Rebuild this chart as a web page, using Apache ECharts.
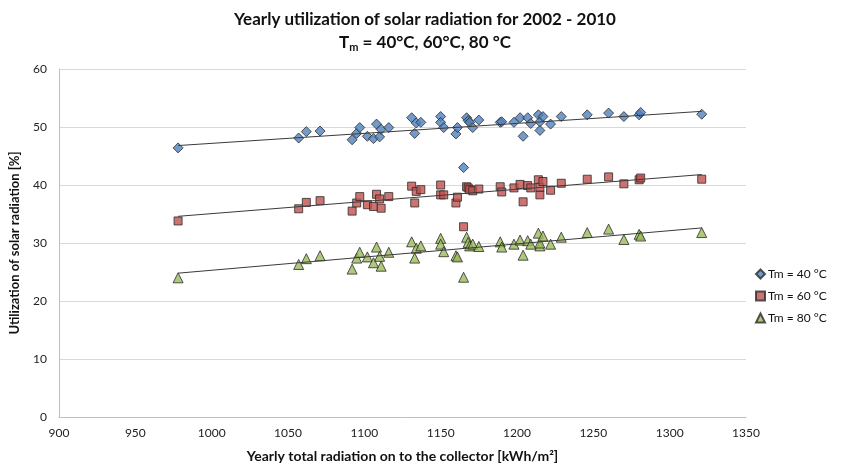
<!DOCTYPE html>
<html>
<head>
<meta charset="utf-8">
<script src="https://cdn.jsdelivr.net/npm/echarts@6/dist/echarts.min.js"></script>
<style>
  html, body { margin: 0; padding: 0; background: #fff; }
  #chart { width: 861px; height: 468px; }
</style>
</head>
<body>
<div id="chart"></div>
<script>
// yearly total radiation on the collector [kWh/m2], shared by all three series
const radiation = [978, 1057, 1062, 1071, 1092, 1095, 1097, 1102, 1106, 1108, 1110, 1111, 1116,
  1131, 1133, 1134, 1137, 1150, 1150, 1152, 1160, 1161, 1165, 1167, 1168, 1169, 1171, 1175,
  1189, 1190, 1198, 1202, 1204, 1207, 1209, 1214, 1215, 1215, 1217, 1222, 1229, 1246, 1260,
  1270, 1280, 1281, 1321];

// utilization [%] for each mean temperature
const tm40 = [46.4, 48.1, 49.2, 49.3, 47.8, 48.9, 49.9, 48.4, 48.0, 50.5, 48.3, 49.6, 49.9,
  51.6, 48.9, 50.7, 50.8, 51.8, 50.8, 49.9, 48.8, 49.9, 43.0, 51.6, 51.1, 50.8, 49.9, 51.2,
  50.8, 50.9, 50.8, 51.6, 48.4, 51.6, 50.6, 52.1, 49.4, 50.9, 51.8, 50.5, 51.8, 52.1, 52.4,
  51.8, 52.1, 52.5, 52.2];
const tm60 = [33.8, 35.9, 37.0, 37.3, 35.5, 36.9, 38.0, 36.6, 36.3, 38.4, 37.6, 36.0, 38.0,
  39.8, 36.9, 38.9, 39.2, 40.0, 38.3, 38.3, 36.9, 37.9, 32.8, 39.7, 39.5, 39.2, 39.0, 39.3,
  39.7, 38.8, 39.5, 40.1, 37.1, 39.9, 39.5, 40.9, 38.3, 39.6, 40.6, 39.1, 40.3, 41.0, 41.4,
  40.2, 40.9, 41.2, 41.0];
const tm80 = [24.0, 26.3, 27.3, 27.8, 25.5, 27.4, 28.4, 27.6, 26.6, 29.3, 27.7, 26.0, 28.4,
  30.2, 27.4, 29.1, 29.5, 30.8, 29.8, 28.5, 27.8, 27.6, 24.1, 31.0, 30.1, 29.5, 29.8, 29.4,
  30.2, 29.3, 29.8, 30.5, 27.9, 30.4, 29.8, 31.7, 29.5, 30.0, 31.2, 29.8, 31.0, 31.8, 32.4,
  30.6, 31.5, 31.2, 31.8];

// linear trend lines, end points
const trendX = [978, 1321];
const trend40 = [46.8, 52.7];
const trend60 = [34.6, 41.8];
const trend80 = [24.8, 32.6];

const names = ['Tm = 40 °C', 'Tm = 60 °C', 'Tm = 80 °C'];
const colors = ['#4f81bd', '#c0504d', '#9bbb59'];
const symbols = ['diamond', 'rect', 'triangle'];
const sizes = [10, 8, 10];

const pair = (xs, ys) => xs.map((x, i) => [x, ys[i]]);

const chart = echarts.init(document.getElementById('chart'));
const font = 'Lato';

const scatter = [tm40, tm60, tm80].map((vals, i) => ({
  name: names[i],
  type: 'scatter',
  data: pair(radiation, vals),
  symbol: symbols[i],
  symbolSize: sizes[i],
  itemStyle: { color: colors[i], borderColor: '#2b2b2b', borderWidth: 1 },
  z: 3
}));

const trends = [trend40, trend60, trend80].map(vals => ({
  type: 'line',
  data: pair(trendX, vals),
  symbol: 'none',
  lineStyle: { color: '#3a3a3a', width: 1 },
  silent: true,
  z: 4
}));

chart.setOption({
  animation: false,
  textStyle: { fontFamily: font },
  title: {
    text: 'Yearly utilization of solar radiation for 2002 - 2010\n{b|T}{s|m}{b| = 40°C, 60°C, 80 °C}',
    left: 420,
    top: 3,
    textAlign: 'center',
    textStyle: {
      fontFamily: font, fontSize: 17, fontWeight: 'bold', color: '#111', lineHeight: 23,
      rich: {
        b: { fontFamily: font, fontSize: 17, fontWeight: 'bold', color: '#111' },
        s: { fontFamily: font, fontSize: 11, fontWeight: 'bold', color: '#111', padding: [9, 0, 0, 0] }
      }
    }
  },
  legend: {
    data: names,
    orient: 'vertical',
    left: 750,
    top: 263,
    itemGap: 10,
    itemWidth: 9,
    itemHeight: 9,
    textStyle: { fontFamily: font, fontSize: 12, color: '#111', padding: [0, 0, 0, -2] }
  },
  grid: { left: 57, right: 115, top: 69, bottom: 46 },
  xAxis: {
    type: 'value',
    min: 900,
    max: 1350,
    interval: 50,
    name: 'Yearly total radiation on to the collector [kWh/m²]',
    nameLocation: 'middle',
    nameGap: 32,
    nameTextStyle: { fontFamily: font, fontSize: 14, fontWeight: 'bold', color: '#111' },
    axisLine: { lineStyle: { color: '#bfbfbf' } },
    axisTick: { show: false },
    axisLabel: { fontFamily: font, fontSize: 12, color: '#222', margin: 10, formatter: v => String(v) },
    splitLine: { show: false }
  },
  yAxis: {
    type: 'value',
    min: 0,
    max: 60,
    interval: 10,
    name: 'Utilization of solar radiation [%]',
    nameLocation: 'middle',
    nameGap: 38,
    nameTextStyle: { fontFamily: font, fontSize: 13, fontWeight: 'bold', color: '#111' },
    axisLine: { show: true, lineStyle: { color: '#bfbfbf' } },
    axisTick: { show: false },
    axisLabel: { fontFamily: font, fontSize: 12, color: '#222', margin: 12 },
    splitLine: { lineStyle: { color: '#d9d9d9', width: 1 } }
  },
  series: [...trends, ...scatter]
});
</script>
</body>
</html>
